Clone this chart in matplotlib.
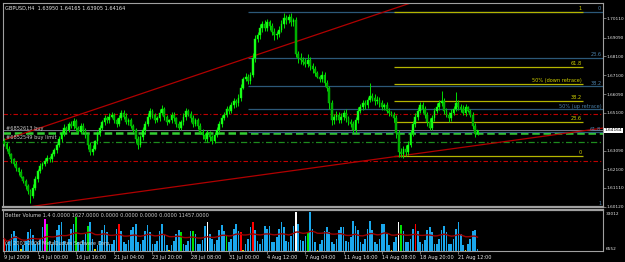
import numpy as np
import pandas as pd
import matplotlib
matplotlib.use("Agg")
import matplotlib.pyplot as plt
import matplotlib.transforms as mtransforms

plt.rcParams['font.family'] = ['DejaVu Sans']

# ---- data (prices in pips above 1.6000) ----
title_txt = "GBPUSD,H4  1.63950 1.64165 1.63905 1.64164"
first_open = 360
closes = [345, 320, 290, 262, 240, 215, 195, 170, 150, 120, 95, 70,
          110, 160, 200, 225,
          240, 255, 270, 262, 290, 310,
          340, 370, 400, 430, 420,
          450, 440, 465, 430, 410, 440, 420, 390,
          340, 300, 320, 360,
          400, 430, 460, 480, 470, 490,
          500, 470, 450, 480, 510, 490, 460, 470, 440, 420,
          370, 340, 380, 420,
          450, 490, 520, 500, 470, 480, 510, 530, 490, 460, 470, 500,
          480, 450, 430, 460, 490, 520, 505, 480, 450, 470, 440,
          410, 390, 370, 400, 380, 360, 390, 420, 450,
          480, 500, 530, 520, 550, 570, 560, 590,
          640, 690, 700, 680, 710,
          800, 900,
          920, 960, 980, 960, 990, 970, 940, 920, 930, 950, 980, 1010,
          1000, 1020, 990, 1000, 820,
          800,
          790, 780, 770, 790, 760, 740, 720, 700, 690, 710, 670, 640,
          560, 470,
          490, 500, 470, 490, 510, 480, 460, 450, 420,
          470, 520, 540, 560, 550, 580,
          600,
          590, 570, 580, 560, 540, 550, 520, 510, 500, 480,
          400, 300, 290,
          320, 300, 340,
          400, 450, 490,
          520, 550, 530, 500, 460, 430, 480, 520, 540,
          560, 570,
          520, 500, 480, 510, 530,
          560, 540,
          530, 510, 540, 520, 500,
          440, 395, 416.4]
up_wick = [15, 10, 12, 8, 10, 12, 9, 14, 6, 10,
           12, 10, 20, 15, 12, 18, 10, 14, 16, 12,
           10, 15, 12, 18, 14, 20, 10, 12, 15, 18,
           12, 10, 14, 16, 10, 12, 15, 20, 8, 12,
           14, 10, 16, 12, 18, 14, 10, 12, 20, 15,
           12, 18, 10, 14, 12, 10, 16, 12, 14, 18,
           20, 15, 12, 10, 14, 18, 20, 12, 10, 6,
           12, 14, 10, 16, 12, 18, 14, 10, 12, 16,
           12, 10, 14, 12, 10, 16, 12, 14, 18, 12,
           14, 16, 12, 18, 14, 16, 20, 12, 18, 25,
           8, 20, 18, 16, 25, 22, 18, 20, 15, 22,
           18, 14, 16, 20, 15, 18, 20, 29, 18, 15,
           20, 15, 18, 20, 25, 15, 20, 30, 16, 14,
           18, 10, 12, 20, 18, 16, 14, 20, 15, 18,
           16, 20, 14, 18, 12, 15, 14, 18, 20, 15,
           18, 16, 14, 68, 15, 18, 20, 14, 16, 12,
           18, 14, 8, 15, 20, 18, 22, 15, 18, 20,
           16, 18, 20, 22, 15, 18, 14, 16, 20, 18,
           15, 20, 20, 55, 18, 14, 16, 20, 15, 60,
           18, 16, 20, 14, 8, 12, 15, 18, 0]
dn_wick = [10, 14, 12, 16, 10, 12, 15, 8, 14, 16,
           14, 38, 12, 10, 16, 12, 14, 10, 12, 15,
           12, 10, 14, 12, 16, 12, 10, 14, 12, 15,
           18, 12, 14, 10, 16, 20, 15, 12, 8, 14,
           12, 10, 14, 16, 12, 10, 15, 14, 12, 10,
           14, 12, 16, 10, 14, 18, 20, 14, 12, 10,
           12, 14, 16, 12, 10, 14, 12, 16, 14, 6,
           12, 16, 14, 10, 12, 14, 16, 12, 18, 14,
           12, 16, 14, 18, 12, 16, 20, 14, 12, 10,
           12, 14, 10, 12, 16, 12, 14, 18, 12, 20,
           6, 12, 18, 15, 12, 20, 15, 18, 20, 16,
           18, 20, 15, 22, 18, 16, 14, 18, 20, 15,
           18, 20, 16, 25, 20, 18, 16, 20, 25, 18,
           14, 8, 16, 18, 20, 15, 30, 25, 20, 18,
           16, 14, 18, 20, 15, 18, 20, 16, 14, 12,
           16, 18, 14, 12, 16, 18, 14, 20, 16, 18,
           14, 16, 8, 20, 25, 24, 15, 20, 18, 16,
           14, 12, 16, 18, 14, 20, 16, 18, 14, 12,
           16, 14, 18, 12, 16, 14, 18, 16, 14, 12,
           14, 16, 12, 18, 8, 14, 16, 12, 4.5]

# tick volume, thousands
volume_k = [10,
            6, 9, 14, 16, 12, 5, 1.5,
            5, 8, 15, 18, 13, 6,
            7, 10, 19, 25.5, 22, 8,
            6, 9, 17, 21, 23, 8,
            6, 10, 18, 22, 27, 7,
            6, 9, 14, 20, 23, 10, 1.5,
            5, 8, 17, 21, 15, 6,
            6, 9, 18, 22, 16, 7,
            6, 9, 17, 19, 22, 7,
            6, 9, 16, 21, 15, 6,
            6, 8, 16, 22, 14, 5, 1.2,
            5, 8, 14, 17, 15, 6,
            5, 8, 16, 16.5, 14, 6,
            6, 9, 20, 23, 14, 10,
            6, 9, 17, 21, 16, 12,
            7, 10, 18, 22, 16, 15, 1,
            6, 10, 19, 23, 17, 8,
            6, 10, 20, 18, 20, 7,
            7, 11, 18, 23, 19, 8,
            7, 12, 20, 31, 22, 9,
            8, 12, 15, 31, 18, 7, 1,
            6, 9, 16, 19, 15, 7,
            6, 10, 17, 19, 19, 8,
            7, 11, 24, 20, 17, 7,
            6, 10, 18, 24, 17, 7,
            6, 10, 22, 22, 14, 5, 1,
            7, 11, 23, 21, 16, 7,
            7, 10, 18, 22, 16, 7,
            6, 9, 17, 19, 15, 6,
            6, 10, 17, 20, 15, 6,
            6, 10, 18, 23, 14, 5, 1,
            6, 10, 16, 17, 1.5]
red_bars = [0, 48, 99, 104, 172]
magenta_bars = [17]
green_bars = [18, 30, 35, 74, 79, 93, 127, 166]
white_bars = [85, 122, 165]
yellow_bars = [7, 38, 69, 100, 131, 162, 193]

# drawn objects
fib_high = 1.7044
blue_low = 1.6011
yellow_low = 1.6281
blue_start = 102
yellow_start, yellow_end = 163, 242
fib_levels = [0, 0.236, 0.382, 0.5, 0.618, 1]
blue_names = ['0', '23.6', '38.2', '50% (up retrace)', '61.8', '1']
yellow_names = ['0', '23.6', '38.2', '50% (down retrace)', '61.8', '1']
up_trend = [(0, 1.63657), (170, 1.70921)]
low_trend = [(7, 1.60052), (251, 1.64294)]
red_levels = [1.65036, 1.62517]
buy_price = 1.64028
buy_limit_price = 1.63551
price_ticks = [1.70110, 1.69090, 1.68100, 1.67100, 1.66090, 1.65100,
               1.63090, 1.62100, 1.61110, 1.60120]
vol_text = "Better Volume 1.4 0.0000 1627.0000 0.0000 0.0000 0.0000 0.0000 11457.0000"

# ---- derived ----
n = len(closes)
c = 1.6 + np.array(closes) / 10000.0
o = np.concatenate([[1.6 + first_open / 10000.0], c[:-1]])
hi = np.maximum(o, c) + np.array(up_wick) / 10000.0
lo = np.minimum(o, c) - np.array(dn_wick) / 10000.0
idx = np.arange(n)
vol = np.array(volume_k) * 1000.0

times = []
t = pd.Timestamp("2009-07-09 20:00")
while len(times) < n:
    if t.weekday() < 5 or (t.weekday() == 6 and t.hour == 20):
        times.append(t)
    t += pd.Timedelta(hours=4)

FG = '#e8e8e8'
GRAY = '#a0a0a0'
FS = 3.6
AXFS = 3.1

fig = plt.figure(figsize=(6.25, 2.62), dpi=100, facecolor='black')
ax = fig.add_axes([3 / 625, 1 - 207 / 262, 600 / 625, 204 / 262], facecolor='black')
axv = fig.add_axes([3 / 625, 1 - 251 / 262, 600 / 625, 41 / 262], facecolor='black', sharex=ax)

xmax = 250.5
ax.set_xlim(-0.5, xmax)
ax.set_ylim(1.60100, 1.70921)

# horizontal lines
ax.axhline(c[-1], color='#8c8c9c', lw=0.6, zorder=2)
for p in red_levels:
    ax.axhline(p, color='#c00000', lw=0.8, ls=(0, (4, 2, 1, 2)), zorder=2)
ax.axhline(buy_price, color='#32cd32', lw=1.8, ls=(0, (3, 1.5)), zorder=2)
ax.axhline(buy_limit_price, color='#1e8b1e', lw=0.9, ls=(0, (5, 2, 1, 2)), zorder=2)
ax.text(0.6, buy_price + 0.0012, "#6852613 buy", color='#c8c8c8', fontsize=FS, va='bottom')
ax.text(0.6, buy_limit_price + 0.0012, "#6852549 buy limit", color='#c8c8c8', fontsize=FS, va='bottom')

# fibonacci sets
for lv, name in zip(fib_levels, blue_names):
    p = fib_high - lv * (fib_high - blue_low)
    ax.hlines(p, blue_start, xmax, color='#2c5878', lw=0.9, zorder=2)
    ax.text(249.8, p + 0.0004, name, color='#4a80aa', fontsize=FS, ha='right', va='bottom')
for lv, name in zip(fib_levels, yellow_names):
    p = yellow_low + lv * (fib_high - yellow_low)
    ax.hlines(p, yellow_start, yellow_end, color='#b4b400', lw=0.9, zorder=2)
    ax.text(yellow_end - 0.3, p + 0.0004, name, color='#d0d000', fontsize=FS, ha='right', va='bottom')

# trend lines
ax.axline(up_trend[0], up_trend[1], color='#b00000', lw=0.9, zorder=2)
ax.axline(low_trend[0], low_trend[1], color='#b00000', lw=0.9, zorder=2)

# candles
up = c >= o
ax.vlines(idx, lo, hi, color='#00dd00', lw=0.7, zorder=3)
body = np.abs(c - o)
ax.bar(idx[up], body[up], bottom=np.minimum(o, c)[up], width=0.75,
       color='#20ff20', edgecolor='#00ff00', lw=0.3, zorder=4)
ax.bar(idx[~up], body[~up], bottom=np.minimum(o, c)[~up], width=0.75,
       color='#00a800', edgecolor='#00d000', lw=0.3, zorder=4)

ax.text(0.004, 0.985, title_txt, transform=ax.transAxes, color=FG, fontsize=FS, va='top')

# price axis
ax.yaxis.tick_right()
ax.set_yticks(price_ticks)
ax.set_yticklabels([f"{v:.5f}" for v in price_ticks])
ax.tick_params(axis='y', colors=GRAY, labelcolor=FG, length=2, width=0.5, labelsize=AXFS, pad=0.6)
ax.tick_params(axis='x', bottom=False, labelbottom=False)
blend = mtransforms.blended_transform_factory(ax.transAxes, ax.transData)
ax.text(1.003, c[-1], "1.64164", transform=blend, color='black', fontsize=AXFS, va='center',
        ha='left', bbox=dict(facecolor='white', edgecolor='none', pad=0.3))
for s in ax.spines.values():
    s.set_color(GRAY)
    s.set_linewidth(0.8)
ax.spines['bottom'].set_linewidth(1.6)

# volume
cols = ['#1aa7ec'] * n
for group, col in [(red_bars, '#ff0000'), (magenta_bars, '#ff00ff'), (green_bars, '#00e000'),
                   (white_bars, '#ffffff'), (yellow_bars, '#d8d800')]:
    for k in group:
        cols[k] = col
axv.bar(idx, vol, width=0.7, color=cols, zorder=2)
ma = pd.Series(vol).rolling(20, min_periods=1).mean()
axv.plot(idx, ma, color='#9a0000', lw=1.0, zorder=3)
axv.set_ylim(0, 33012)
axv.text(0.004, 0.93, vol_text, transform=axv.transAxes, color='#d0d0d0', fontsize=FS, va='top')
axv.text(0.004, 0.12, "(c) 2001-2009 MetaQuotes Software Corp.", transform=axv.transAxes,
         color='#d0d0d0', fontsize=FS, va='bottom', zorder=4)
axv.set_yticks([])
axv.text(1.004, 0.9, "33012", transform=axv.transAxes, color=FG, fontsize=AXFS, va='center')
axv.text(1.004, 0.06, "6552", transform=axv.transAxes, color=FG, fontsize=AXFS, va='center')

tick_idx = [0] + list(range(14, n, 16))
tick_lab = []
for k in tick_idx:
    tt = times[k]
    if k == 0:
        tick_lab.append(f"{tt.day} {tt.strftime('%b %Y')}")
    else:
        tick_lab.append(f"{tt.day} {tt.strftime('%b %H:%M')}")
axv.set_xticks(tick_idx)
axv.set_xticklabels(tick_lab, ha='left')
axv.tick_params(axis='x', colors=GRAY, labelcolor=FG, length=2, width=0.5, labelsize=FS, pad=1)
for s in axv.spines.values():
    s.set_color(GRAY)
    s.set_linewidth(0.8)
axv.spines['top'].set_linewidth(1.6)

fig.savefig("out.png", dpi=100, facecolor='black')
